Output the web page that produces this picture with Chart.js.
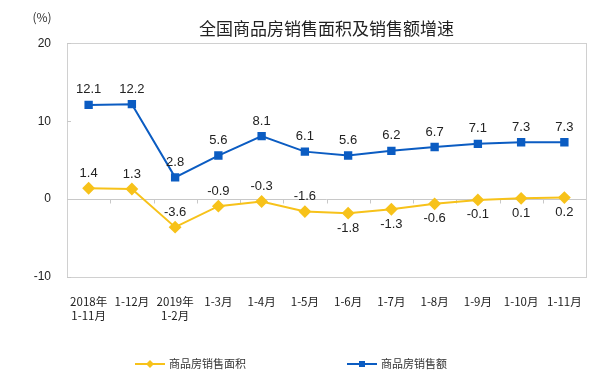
<!DOCTYPE html>
<html lang="zh">
<head>
<meta charset="UTF-8">
<title>全国商品房销售面积及销售额增速</title>
<script src="https://cdn.jsdelivr.net/npm/chart.js"></script>
<style>
  body { margin: 0; background: #fff; }
  #wrap { width: 600px; height: 388px; }
</style>
</head>
<body>
<div id="wrap"><canvas id="c" width="600" height="388"></canvas></div>
<script>
const categories = [
  ['2018年', '1-11月'], '1-12月', ['2019年', '1-2月'], '1-3月', '1-4月', '1-5月',
  '1-6月', '1-7月', '1-8月', '1-9月', '1-10月', '1-11月'
];
const areaGrowth  = [1.4, 1.3, -3.6, -0.9, -0.3, -1.6, -1.8, -1.3, -0.6, -0.1, 0.1, 0.2];
const salesGrowth = [12.1, 12.2, 2.8, 5.6, 8.1, 6.1, 5.6, 6.2, 6.7, 7.1, 7.3, 7.3];
const yTicks = [-10, 0, 10, 20];
// where the area labels sit: 1 = above the point, -1 = below
const areaLabelSide = [1, 1, 1, 1, 1, 1, -1, -1, -1, -1, -1, -1];

const YELLOW = '#f7c21a';
const BLUE = '#0b5cc2';

const decor = {
  id: 'decor',
  beforeDatasetsDraw(chart) {
    const { ctx, chartArea: a, scales: { x, y } } = chart;
    ctx.save();
    ctx.strokeStyle = '#d0d0d0';
    ctx.lineWidth = 1;
    ctx.strokeRect(Math.round(a.left) + 0.5, Math.round(a.top) + 0.5,
      Math.round(a.right - a.left), Math.round(a.bottom - a.top));
    const y0 = Math.round(y.getPixelForValue(0)) + 0.5;
    ctx.strokeStyle = '#c8c8c8';
    ctx.beginPath();
    ctx.moveTo(a.left, y0);
    ctx.lineTo(a.right, y0);
    // category tick marks on the zero line
    for (let i = 1; i < categories.length; i++) {
      const px = Math.round((x.getPixelForValue(i - 1) + x.getPixelForValue(i)) / 2) + 0.5;
      ctx.moveTo(px, y0);
      ctx.lineTo(px, y0 + 4);
    }
    // small value ticks on the left edge
    yTicks.forEach(v => {
      const py = Math.round(y.getPixelForValue(v)) + 0.5;
      ctx.moveTo(a.left, py);
      ctx.lineTo(a.left + 4, py);
    });
    ctx.stroke();
    ctx.restore();
  },
  afterDatasetsDraw(chart) {
    const { ctx } = chart;
    ctx.save();
    ctx.font = '13px "Liberation Sans", Arial, sans-serif';
    ctx.fillStyle = '#222';
    ctx.textAlign = 'center';
    ctx.textBaseline = 'middle';
    chart.data.datasets.forEach((ds, di) => {
      chart.getDatasetMeta(di).data.forEach((pt, i) => {
        const side = di === 0 ? areaLabelSide[i] : 1;
        ctx.fillText(ds.data[i].toFixed(1), pt.x, pt.y - side * 15);
      });
    });
    // "(%)" unit label
    ctx.font = '12px "Noto Sans CJK SC", sans-serif';
    ctx.fillStyle = '#333';
    ctx.fillText('(%)', 42, 17);
    // legend
    const items = [
      { ds: 0, x: 135 },
      { ds: 1, x: 347 }
    ];
    const ly = 364;
    items.forEach(it => {
      const ds = chart.data.datasets[it.ds];
      ctx.strokeStyle = ds.borderColor;
      ctx.lineWidth = 2;
      ctx.beginPath();
      ctx.moveTo(it.x, ly);
      ctx.lineTo(it.x + 30, ly);
      ctx.stroke();
      ctx.fillStyle = ds.borderColor;
      if (ds.pointStyle === 'rectRot') {
        ctx.beginPath();
        ctx.moveTo(it.x + 15, ly - 4);
        ctx.lineTo(it.x + 19, ly);
        ctx.lineTo(it.x + 15, ly + 4);
        ctx.lineTo(it.x + 11, ly);
        ctx.closePath();
        ctx.fill();
      } else {
        ctx.fillRect(it.x + 12, ly - 3, 6, 6);
      }
      ctx.fillStyle = '#333';
      ctx.textAlign = 'left';
      ctx.font = '11px "Noto Sans CJK SC", sans-serif';
      ctx.fillText(ds.label, it.x + 34, ly);
    });
    ctx.restore();
  }
};

new Chart(document.getElementById('c'), {
  type: 'line',
  data: {
    labels: categories,
    datasets: [
      {
        label: '商品房销售面积',
        data: areaGrowth,
        borderColor: YELLOW,
        backgroundColor: YELLOW,
        borderWidth: 2,
        pointStyle: 'rectRot',
        pointRadius: 5,
        tension: 0
      },
      {
        label: '商品房销售额',
        data: salesGrowth,
        borderColor: BLUE,
        backgroundColor: BLUE,
        borderWidth: 2,
        pointStyle: 'rect',
        pointRadius: 4.5,
        tension: 0
      }
    ]
  },
  options: {
    responsive: false,
    animation: false,
    layout: { padding: { left: 0, right: 14, top: 0, bottom: 60 } },
    plugins: {
      legend: { display: false },
      tooltip: { enabled: false },
      title: {
        display: true,
        fullSize: false,
        text: '全国商品房销售面积及销售额增速',
        color: '#222',
        font: { family: '"Noto Sans CJK SC", sans-serif', size: 17, weight: 'normal' },
        padding: { top: 18, bottom: 5 }
      }
    },
    scales: {
      x: {
        offset: true,
        grid: { display: false },
        border: { display: false },
        ticks: {
          color: '#222',
          font: { family: '"Noto Sans CJK SC", sans-serif', size: 11.5 },
          padding: 10,
          maxRotation: 0,
          autoSkip: false
        },
        afterFit(scale) { scale.height = 51; }
      },
      y: {
        min: -10,
        max: 20,
        afterBuildTicks(scale) { scale.ticks = yTicks.map(v => ({ value: v })); },
        grid: { display: false, drawTicks: false },
        border: { display: false },
        ticks: {
          color: '#222',
          font: { family: '"Liberation Sans", Arial, sans-serif', size: 12 },
          padding: 16
        },
        afterFit(scale) { scale.width = 67; }
      }
    }
  },
  plugins: [decor]
});
</script>
</body>
</html>
